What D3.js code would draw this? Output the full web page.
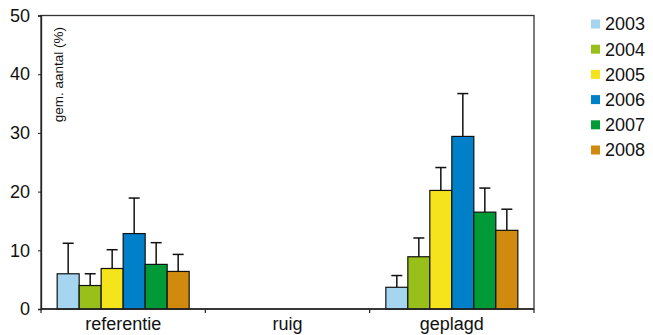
<!DOCTYPE html>
<html><head><meta charset="utf-8">
<script src="https://cdn.jsdelivr.net/npm/d3@7"></script>
<style>body{margin:0;background:#fff}svg{display:block}</style>
</head><body>
<script>
const categories = ["referentie", "ruig", "geplagd"];
const years = ["2003", "2004", "2005", "2006", "2007", "2008"];
const colors = ["#a6d5f0", "#99c01a", "#f5e31b", "#0080c8", "#009b37", "#d08a0e"];
// values[year][category]
const v2003 = [6.0, 0, 3.7];
const v2004 = [4.0, 0, 8.9];
const v2005 = [6.9, 0, 20.2];
const v2006 = [12.85, 0, 29.4];
const v2007 = [7.6, 0, 16.5];
const v2008 = [6.4, 0, 13.4];
const e2003 = [11.2, 0, 5.7];
const e2004 = [6.0, 0, 12.1];
const e2005 = [10.1, 0, 24.1];
const e2006 = [18.9, 0, 36.7];
const e2007 = [11.3, 0, 20.6];
const e2008 = [9.3, 0, 17.0];
const yTicks = [0, 10, 20, 30, 40, 50];

const values = [v2003, v2004, v2005, v2006, v2007, v2008];
const errTops = [e2003, e2004, e2005, e2006, e2007, e2008];

const W = 653, H = 335;
const L = 41, R = 534, T = 15.5, B = 309;
const svg = d3.select("body").append("svg").attr("width", W).attr("height", H);
const font = "Liberation Sans, Arial, Helvetica, sans-serif";

const x = d3.scaleBand().domain(categories).range([L, R]).paddingInner(0).paddingOuter(0);
const y = d3.scaleLinear().domain([0, 50]).range([B, T]);
const bw = 22;
const x1 = d3.scaleBand().domain(years).range([0, bw * years.length]);
const groupOff = (x.bandwidth() - bw * years.length) / 2;

// frame
svg.append("rect").attr("x", L).attr("y", T).attr("width", R - L).attr("height", B - T)
  .attr("fill", "none").attr("stroke", "#333").attr("stroke-width", 1.3);

// bars
years.forEach((yr, i) => {
  categories.forEach((c, j) => {
    const bx = x(c) + groupOff + x1(yr);
    const val = values[i][j];
    const et = errTops[i][j];
    if (et > val) {
      const cx = bx + bw / 2;
      svg.append("line").attr("x1", cx).attr("x2", cx).attr("y1", y(val)).attr("y2", y(et))
        .attr("stroke", "#111").attr("stroke-width", 1.5);
      svg.append("line").attr("x1", cx - 5.5).attr("x2", cx + 5.5).attr("y1", y(et)).attr("y2", y(et))
        .attr("stroke", "#111").attr("stroke-width", 1.5);
    }
    svg.append("rect").attr("x", bx).attr("y", y(val)).attr("width", bw)
      .attr("height", Math.max(0, y(0) - y(val)))
      .attr("fill", colors[i]).attr("stroke", "#111").attr("stroke-width", 1.2);
  });
});

// y axis
const yAxis = d3.axisLeft(y).tickValues(yTicks).tickSize(3).tickPadding(8);
const gy = svg.append("g").attr("transform", `translate(${L},0)`).call(yAxis);
gy.select(".domain").attr("stroke", "#222").attr("stroke-width", 1.3);
gy.selectAll(".tick line").attr("stroke", "#222");
gy.selectAll("text").attr("font-family", font).attr("font-size", 18).attr("fill", "#111");

// x axis
const gx = svg.append("g").attr("transform", `translate(0,${B})`);
gx.append("line").attr("x1", L).attr("x2", R).attr("stroke", "#222").attr("stroke-width", 1.5);
const bounds = categories.map(c => x(c)).concat([R]);
gx.selectAll(".tk").data(bounds).enter().append("line")
  .attr("x1", d => d).attr("x2", d => d).attr("y1", 0).attr("y2", 4)
  .attr("stroke", "#222").attr("stroke-width", 1.2);
gx.selectAll(".lbl").data(categories).enter().append("text")
  .attr("x", d => x(d) + x.bandwidth() / 2).attr("y", 21)
  .attr("text-anchor", "middle").attr("font-family", font).attr("font-size", 18).attr("fill", "#111")
  .text(d => d);

// y label
svg.append("text").attr("transform", `translate(62.5,27) rotate(-90)`)
  .attr("text-anchor", "end").attr("font-family", font).attr("font-size", 13.5).attr("fill", "#111")
  .text("gem. aantal (%)");

// legend
const lg = svg.append("g");
years.forEach((yr, i) => {
  const cy = 24 + i * 25.2;
  lg.append("rect").attr("x", 591).attr("y", cy - 4.5).attr("width", 9).attr("height", 9).attr("fill", colors[i]);
  lg.append("text").attr("x", 605).attr("y", cy).attr("dy", "0.35em")
    .attr("font-family", font).attr("font-size", 18).attr("fill", "#111").text(yr);
});
</script>
</body></html>
